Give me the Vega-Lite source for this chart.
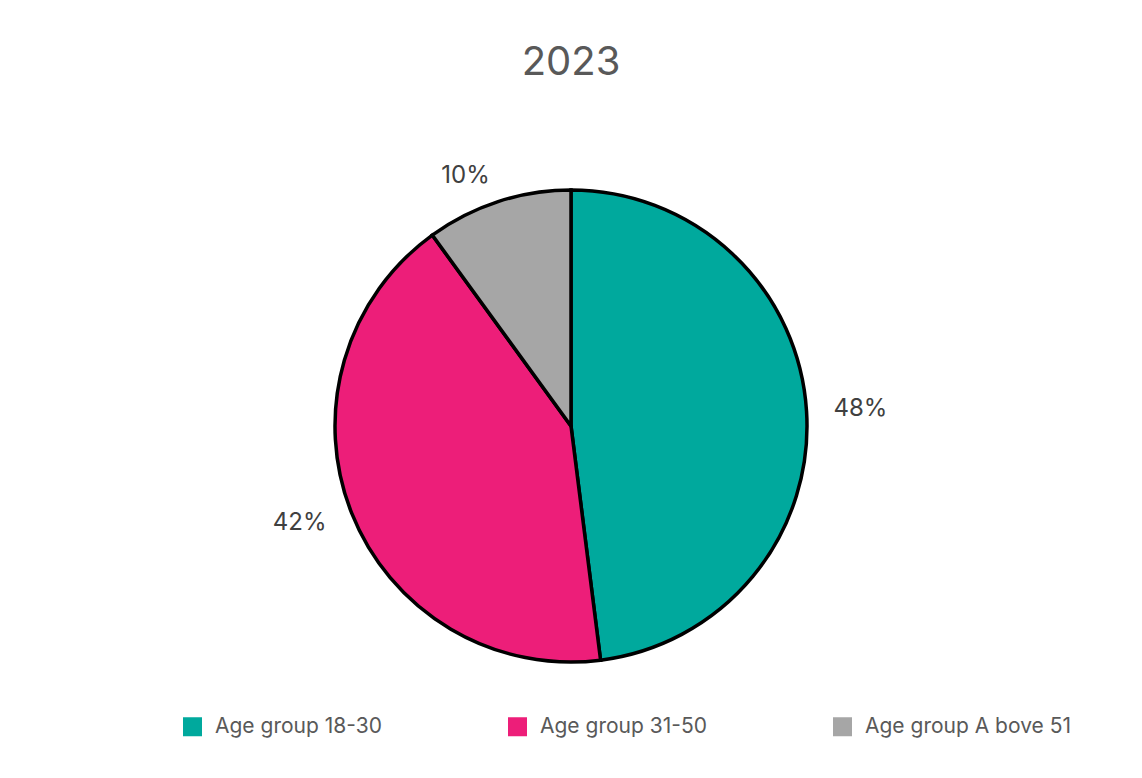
{
  "$schema": "https://vega.github.io/schema/vega-lite/v6.json",
  "autosize": "none",
  "width": 1142,
  "height": 500,
  "padding": {"top": 176, "left": 0, "right": 0, "bottom": 102},
  "background": "white",
  "title": {
    "text": "2023",
    "fontSize": 40,
    "font": "Inter",
    "fontWeight": "normal",
    "color": "#595959",
    "anchor": "middle",
    "frame": "group",
    "offset": 81
  },
  "data": {
    "values": [
      {"group": "Age group 18-30", "share": 48, "label": "48%", "order": 1},
      {"group": "Age group 31-50", "share": 42, "label": "42%", "order": 2},
      {"group": "Age group A bove 51", "share": 10, "label": "10%", "order": 3}
    ]
  },
  "encoding": {
    "theta": {"field": "share", "type": "quantitative", "stack": true},
    "order": {"field": "order", "type": "quantitative"}
  },
  "layer": [
    {
      "mark": {"type": "arc", "outerRadius": 236, "stroke": "black", "strokeWidth": 3.5},
      "encoding": {
        "color": {
          "field": "group",
          "type": "nominal",
          "scale": {
            "domain": ["Age group 18-30", "Age group 31-50", "Age group A bove 51"],
            "range": ["#00A99D", "#ED1E79", "#A6A6A6"]
          },
          "legend": {
            "title": null,
            "orient": "none",
            "direction": "horizontal",
            "legendX": 182,
            "legendY": 540,
            "padding": 0,
            "symbolType": "square",
            "symbolSize": 361,
            "symbolStrokeWidth": 0,
            "symbolOpacity": 1,
            "labelFont": "Inter",
            "labelFontSize": 21,
            "labelColor": "#595959",
            "labelOffset": 12,
            "labelLimit": 400,
            "columnPadding": 125
          }
        }
      }
    },
    {
      "mark": {
        "type": "text",
        "radius": 263,
        "fontSize": 24,
        "font": "Inter",
        "color": "#404040",
        "baseline": "middle",
        "align": {"expr": "datum.group === 'Age group 18-30' ? 'left' : 'right'"}
      },
      "encoding": {"text": {"field": "label", "type": "nominal"}}
    }
  ],
  "config": {"view": {"stroke": null}}
}
